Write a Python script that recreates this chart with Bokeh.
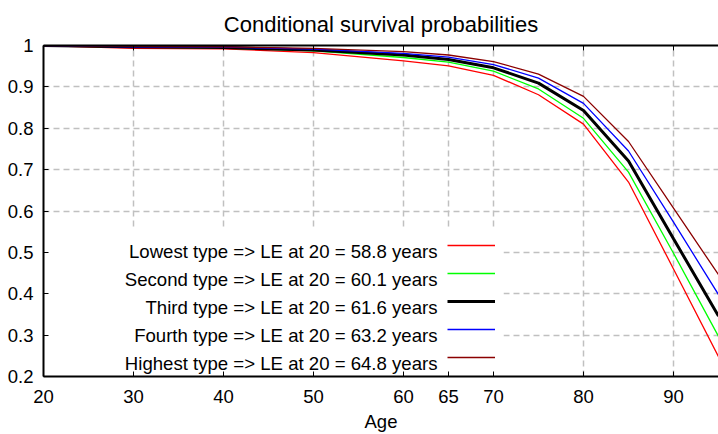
from bokeh.plotting import figure
from bokeh.models import (Range1d, FixedTicker, LinearAxis, CustomJSTickFormatter,
                          Legend, LegendItem, Label, BoxAnnotation)
from bokeh.core.properties import value
from bokeh.embed import file_html
from bokeh.resources import INLINE

# ---------------- data ----------------
ages = [20, 30, 40, 50, 60, 65, 70, 75, 80, 85, 90, 95]
lowest = [1.0, 0.993, 0.992, 0.983, 0.963, 0.951, 0.928, 0.881, 0.810, 0.670, 0.460, 0.248]
second = [1.0, 0.996, 0.994, 0.987, 0.971, 0.960, 0.938, 0.895, 0.824, 0.694, 0.498, 0.297]
third = [1.0, 0.997, 0.995, 0.989, 0.977, 0.966, 0.946, 0.909, 0.843, 0.721, 0.533, 0.346]
fourth = [1.0, 0.997, 0.996, 0.991, 0.981, 0.972, 0.954, 0.921, 0.860, 0.745, 0.573, 0.398]
highest = [1.0, 0.998, 0.997, 0.993, 0.985, 0.977, 0.961, 0.931, 0.877, 0.768, 0.607, 0.446]

type_names = ["Lowest", "Second", "Third", "Fourth", "Highest"]
le_at_20 = [58.8, 60.1, 61.6, 63.2, 64.8]

x_ticks = [20, 30, 40, 50, 60, 65, 70, 80, 90]
y_ticks = [0.2, 0.3, 0.4, 0.5, 0.6, 0.7, 0.8, 0.9, 1.0]

# ---------------- styles ----------------
FONT = "Liberation Sans"
colors = ["#ff0000", "#00ff00", "#000000", "#0000ff", "#8b0000"]
widths = [1.3, 1.3, 3.0, 1.3, 1.3]

p = figure(width=718, height=434,
           x_range=Range1d(20, 95), y_range=Range1d(0.2, 1.0),
           output_backend="svg", toolbar_location=None,
           title="Conditional survival probabilities",
           min_border_left=43, min_border_right=0,
           min_border_top=45, min_border_bottom=58)
p.outline_line_color = None
p.background_fill_color = "white"
p.border_fill_color = "white"

p.title.text_font = FONT
p.title.text_font_size = "22px"
p.title.text_font_style = "normal"
p.title.text_color = "#000000"
p.title.align = "center"
p.title.standoff = 18

xt = FixedTicker(ticks=x_ticks)
yt = FixedTicker(ticks=y_ticks)

xax = p.xaxis[0]
yax = p.yaxis[0]
xax.ticker = xt
yax.ticker = yt
yax.formatter = CustomJSTickFormatter(code="return tick.toString();")
p.xgrid[0].ticker = xt
p.ygrid[0].ticker = yt

for ax in (xax, yax):
    ax.axis_line_width = 2
    ax.axis_line_color = "#000000"
    ax.major_tick_in = 5
    ax.major_tick_out = 0
    ax.major_tick_line_color = "#000000"
    ax.major_tick_line_width = 1
    ax.minor_tick_line_color = None
    ax.major_label_text_font = FONT
    ax.major_label_text_font_size = "18.5px"
    ax.major_label_text_color = "#000000"
yax.major_label_standoff = 10
xax.major_label_standoff = 13
xax.axis_label = "Age"
xax.axis_label_text_font = FONT
xax.axis_label_text_font_size = "18.5px"
xax.axis_label_text_font_style = "normal"
xax.axis_label_text_color = "#000000"
xax.axis_label_standoff = 5

top_axis = LinearAxis(ticker=xt, formatter=CustomJSTickFormatter(code="return '';"),
                      axis_line_width=2, axis_line_color="#000000",
                      major_tick_in=5, major_tick_out=0,
                      major_tick_line_color="#000000",
                      minor_tick_line_color=None,
                      major_label_text_font_size="1px", major_label_standoff=0)
p.add_layout(top_axis, "above")

for g in (p.xgrid[0], p.ygrid[0]):
    g.grid_line_color = "#c0c0c0"
    g.grid_line_width = 1.5
    g.grid_line_dash = "6 4"

# blank area behind the key (hides the grid there, like the reference)
p.add_layout(BoxAnnotation(right=460, top=148, right_units="screen", top_units="screen",
                           fill_color="white", fill_alpha=1.0, line_color=None,
                           level="underlay"))

series = [lowest, second, third, fourth, highest]
renderers = []
for ys, c, w in zip(series, colors, widths):
    r = p.line(ages, ys, line_color=c, line_width=w)
    renderers.append(r)

# key lines (legend with glyphs only; texts are right-aligned labels to the left)
row_h = 28
box_bottom = 5
key_left = 404
legend = Legend(items=[LegendItem(label=value(""), renderers=[r]) for r in renderers],
                location=(key_left, box_bottom), orientation="vertical",
                glyph_width=48, glyph_height=row_h, label_height=row_h, label_width=0,
                label_standoff=0, spacing=0, padding=0, margin=0,
                label_text_font_size="1px",
                border_line_color=None, background_fill_alpha=0.0)
p.add_layout(legend, "center")

n = len(type_names)
for i, (name, le) in enumerate(zip(type_names, le_at_20)):
    yc = box_bottom + (n - i - 0.5) * row_h - 5.5
    p.add_layout(Label(x=key_left - 10, y=yc, x_units="screen", y_units="screen",
                       text=f"{name} type => LE at 20 = {le} years",
                       text_align="right", text_baseline="middle",
                       text_font=FONT, text_font_size="18.6px",
                       text_color="#000000"))

open("out.html", "w").write(file_html(p, INLINE))
